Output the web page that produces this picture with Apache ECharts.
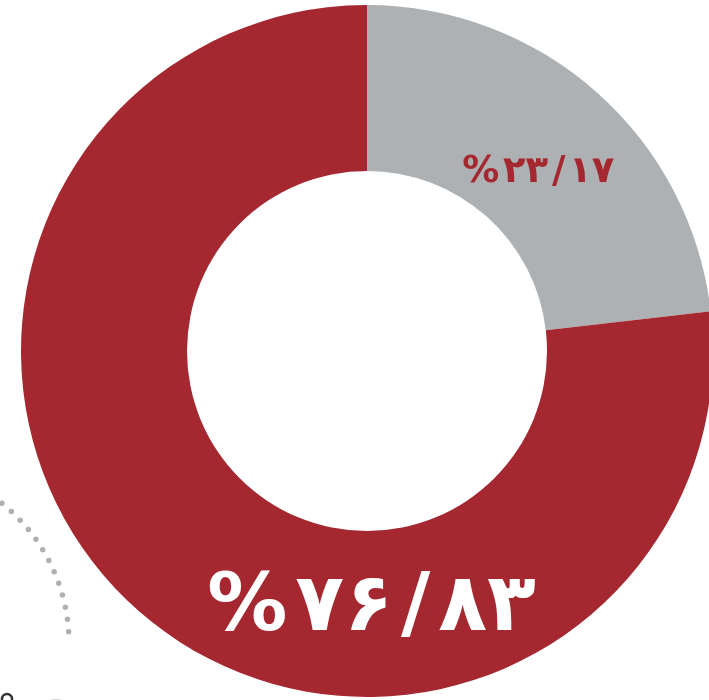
<!DOCTYPE html>
<html>
<head>
<meta charset="utf-8">
<style>
  html, body { margin: 0; padding: 0; background: #ffffff; }
  #chart { width: 709px; height: 700px; }
</style>
<script src="https://cdn.jsdelivr.net/npm/echarts@6/dist/echarts.min.js"></script>
</head>
<body>
<div id="chart"></div>
<script>
// Data
const categories = ['gray', 'red'];
const values = [23.17, 76.83];
const labelTexts = ['%\u200A۲۳\u200A/\u200A۱۷', '%\u200A۷۶\u200A/\u200A۸۳'];
const colors = ['#ADB1B3', '#A52830'];

const chart = echarts.init(document.getElementById('chart'), null, { renderer: 'canvas' });

const cx = 367, cy = 351, rIn = 180, rOut = 346;
// label anchor positions relative to center, in units of outer radius
const labelAnchors = [[0.495, -0.515], [0.013, 0.745]];
const labelSizes = [37, 80];
const labelColors = ['#A52830', '#ffffff'];

const option = {
  backgroundColor: '#ffffff',
  animation: false,
  graphic: [
    {
      type: 'arc',
      shape: { cx: -110, cy: 643, r: 179, startAngle: -0.895, endAngle: -0.06, clockwise: true },
      style: { fill: null, stroke: '#ADB1B3', lineWidth: 5.5, lineDash: [0, 12.4], lineCap: 'round' },
      z: 1
    },
    {
      type: 'circle',
      shape: { cx: 7, cy: 699, r: 5 },
      style: { fill: null, stroke: '#333333', lineWidth: 2.5 }
    },
    {
      type: 'circle',
      shape: { cx: 56, cy: 716, r: 17 },
      style: { fill: '#C9CBCC' }
    }
  ],
  series: [{
    type: 'pie',
    center: [cx, cy],
    radius: [rIn, rOut],
    startAngle: 90,
    clockwise: true,
    silent: true,
    avoidLabelOverlap: false,
    itemStyle: { borderWidth: 0 },
    label: {
      show: true,
      position: 'inside',
      fontFamily: 'DejaVu Sans',
      fontWeight: 'bold',
      formatter: p => labelTexts[p.dataIndex]
    },
    labelLine: { show: false },
    labelLayout: function (params) {
      const a = labelAnchors[params.dataIndex];
      return {
        x: cx + a[0] * rOut,
        y: cy + a[1] * rOut,
        align: 'center',
        verticalAlign: 'middle'
      };
    },
    data: categories.map((c, i) => ({
      name: c,
      value: values[i],
      itemStyle: { color: colors[i] },
      label: { fontSize: labelSizes[i], color: labelColors[i] }
    }))
  }]
};
chart.setOption(option);
</script>
</body>
</html>
